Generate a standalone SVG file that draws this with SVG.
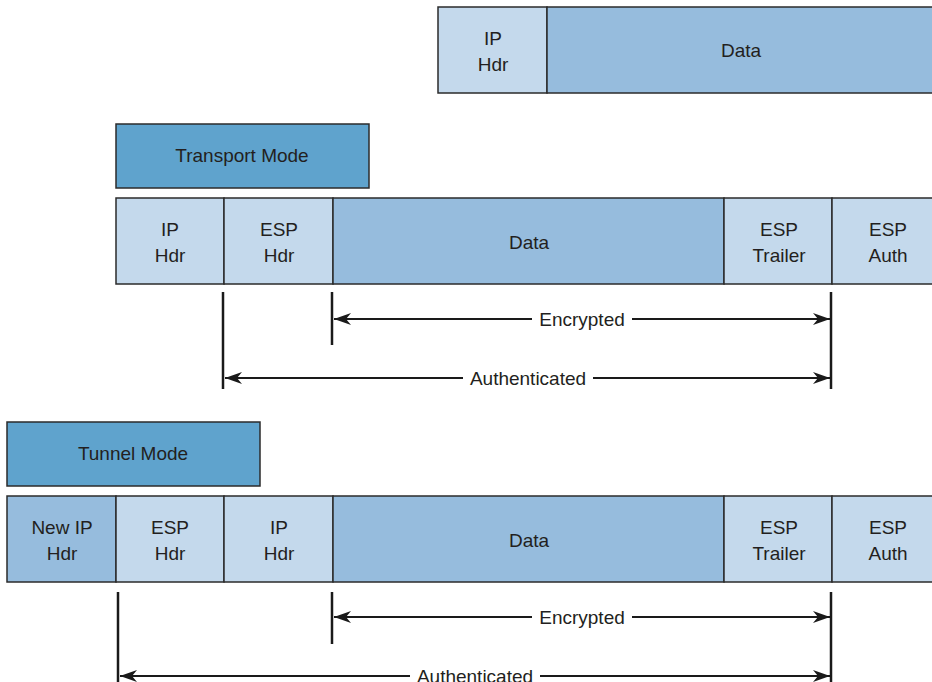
<svg xmlns="http://www.w3.org/2000/svg" width="932" height="682" viewBox="0 0 932 682">
<style>
.light{fill:#c4d9ec;stroke:#2b2b2b;stroke-width:1.5}
.mid{fill:#96bcdd;stroke:#2b2b2b;stroke-width:1.5}
.mode{fill:#5fa3cd;stroke:#2b2b2b;stroke-width:1.5}
text{font-family:"Liberation Sans",Arial,sans-serif;font-size:19px;fill:#231f20;text-anchor:middle}
.tick{stroke:#1a1a1a;stroke-width:2.5}
.arr{stroke:#1a1a1a;stroke-width:2;marker-end:url(#ah)}
</style>
<defs>
<marker id="ah" markerUnits="userSpaceOnUse" markerWidth="18" markerHeight="14" refX="17" refY="6" orient="auto">
<path d="M0,0 L17,6 L0,12 L5,6 z" fill="#1a1a1a"/>
</marker>
</defs>

<g id="orig-packet">
<rect class="light" x="438" y="7" width="109" height="86"/>
<rect class="mid" x="547" y="7" width="390" height="86"/>
<text x="493" y="45">IP</text><text x="493" y="71">Hdr</text>
<text x="741" y="57">Data</text>
</g>

<g id="transport-mode">
<rect class="mode" x="116" y="124" width="253" height="64"/>
<text x="242" y="162">Transport Mode</text>
</g>

<g id="transport-packet">
<rect class="light" x="116" y="198" width="108" height="86"/>
<rect class="light" x="224" y="198" width="109" height="86"/>
<rect class="mid" x="333" y="198" width="391" height="86"/>
<rect class="light" x="724" y="198" width="108" height="86"/>
<rect class="light" x="832" y="198" width="105" height="86"/>
<text x="170" y="236">IP</text><text x="170" y="262">Hdr</text>
<text x="279" y="236">ESP</text><text x="279" y="262">Hdr</text>
<text x="529" y="249">Data</text>
<text x="779" y="236">ESP</text><text x="779" y="262">Trailer</text>
<text x="888" y="236">ESP</text><text x="888" y="262">Auth</text>
</g>

<g id="tunnel-mode">
<rect class="mode" x="7" y="422" width="253" height="64"/>
<text x="133" y="460">Tunnel Mode</text>
</g>

<g id="tunnel-packet">
<rect class="mid" x="7" y="496" width="109" height="86"/>
<rect class="light" x="116" y="496" width="108" height="86"/>
<rect class="light" x="224" y="496" width="109" height="86"/>
<rect class="mid" x="333" y="496" width="391" height="86"/>
<rect class="light" x="724" y="496" width="108" height="86"/>
<rect class="light" x="832" y="496" width="105" height="86"/>
<text x="62" y="534">New IP</text><text x="62" y="560">Hdr</text>
<text x="170" y="534">ESP</text><text x="170" y="560">Hdr</text>
<text x="279" y="534">IP</text><text x="279" y="560">Hdr</text>
<text x="529" y="547">Data</text>
<text x="779" y="534">ESP</text><text x="779" y="560">Trailer</text>
<text x="888" y="534">ESP</text><text x="888" y="560">Auth</text>
</g>

<g id="connectors">
<line class="tick" x1="223" y1="292" x2="223" y2="389"/>
<line class="tick" x1="332" y1="292" x2="332" y2="345"/>
<line class="tick" x1="831" y1="292" x2="831" y2="389"/>
<line class="arr" x1="532" y1="319" x2="334" y2="319"/>
<line class="arr" x1="632" y1="319" x2="830" y2="319"/>
<text x="582" y="326">Encrypted</text>
<line class="arr" x1="463" y1="378" x2="225" y2="378"/>
<line class="arr" x1="593" y1="378" x2="830" y2="378"/>
<text x="528" y="385">Authenticated</text>

<line class="tick" x1="118" y1="592" x2="118" y2="682"/>
<line class="tick" x1="332" y1="592" x2="332" y2="644"/>
<line class="tick" x1="831" y1="592" x2="831" y2="682"/>
<line class="arr" x1="532" y1="617" x2="334" y2="617"/>
<line class="arr" x1="632" y1="617" x2="830" y2="617"/>
<text x="582" y="624">Encrypted</text>
<line class="arr" x1="410" y1="676" x2="120" y2="676"/>
<line class="arr" x1="540" y1="676" x2="830" y2="676"/>
<text x="475" y="683">Authenticated</text>
</g>
</svg>
